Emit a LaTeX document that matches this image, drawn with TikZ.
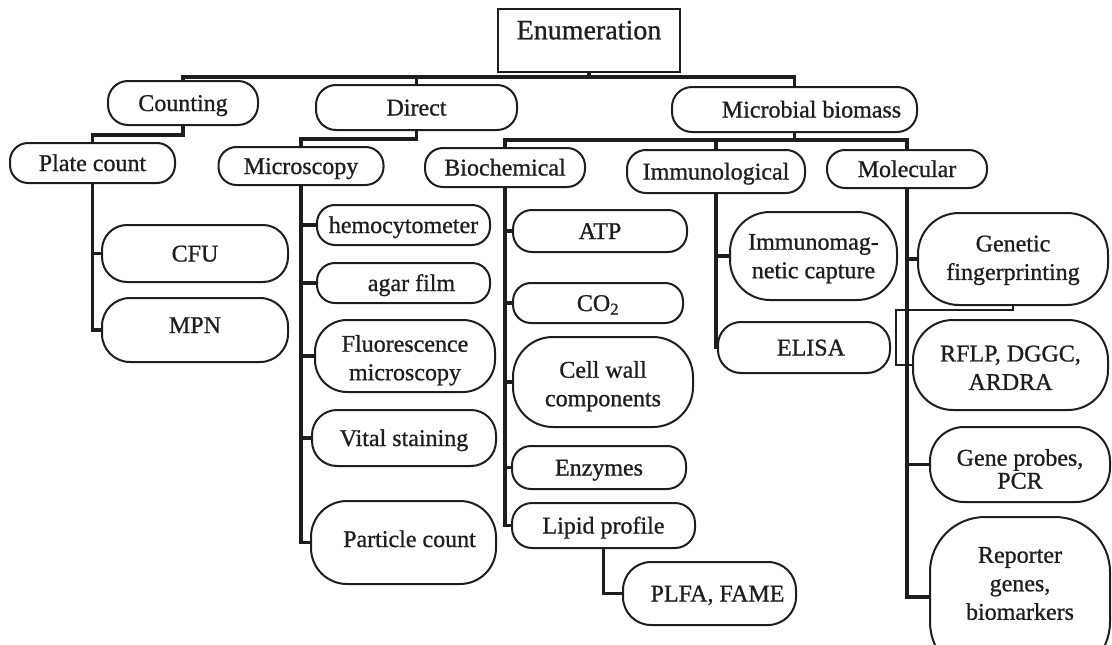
\documentclass[tikz,border=0pt]{standalone}
\usepackage{fontspec}
\setmainfont{Liberation Serif}[FakeBold=0.9]
\definecolor{ink}{HTML}{1E1E1E}
\newcommand\mltext[2]{\raisebox{#1}[0pt][0pt]{\begin{tabular}{@{}c@{}}#2\end{tabular}}}
\begin{document}
\begin{tikzpicture}[x=1pt,y=-1pt,
  bx/.style={draw=ink, line width=2pt, inner sep=0pt, align=center, text=ink,
             font=\fontsize{24}{28.5}\selectfont},
  bxa/.style={bx, text height=16pt, text depth=0pt},
  conn/.style={draw=ink, line width=3.2pt, line join=miter}]
\useasboundingbox (0,0) rectangle (1112,645);

% top level
\node[bx, minimum width=182, minimum height=63, text height=30.3pt, text depth=32.7pt,
      font=\fontsize{28}{32}\selectfont] (enum) at (589,40.5) {Enumeration};

% level 1
\node[bxa, minimum width=150, minimum height=44, rounded corners=20] (counting) at (183,103) {Counting};
\node[bxa, minimum width=201, minimum height=45, rounded corners=20] (direct) at (416.5,107.5) {Direct};
\node[bxa, minimum width=245, minimum height=45, rounded corners=20] (microbial) at (794.5,109.5) {\hspace*{34pt}Microbial biomass};

% level 2
\node[bxa, minimum width=165, minimum height=40, rounded corners=18] (plate) at (92.5,163) {Plate count};
\node[bxa, minimum width=165, minimum height=38, rounded corners=18] (micro) at (301,166) {Microscopy};
\node[bxa, minimum width=160, minimum height=39, rounded corners=18] (biochem) at (505,167.5) {Biochemical};
\node[bxa, minimum width=178, minimum height=43, rounded corners=19] (immuno) at (716,171.5) {Immunological};
\node[bxa, minimum width=160, minimum height=38, rounded corners=18] (molec) at (907,169) {Molecular};

% plate count children
\node[bxa, minimum width=186, minimum height=57, rounded corners=25] (cfu) at (195,253.5) {CFU};
\node[bxa, text depth=10pt, minimum width=186, minimum height=64, rounded corners=28] (mpn) at (195,330) {MPN};

% microscopy children
\node[bxa, minimum width=173, minimum height=40, rounded corners=18] (hemo) at (403.5,225) {hemocytometer};
\node[bxa, minimum width=173, minimum height=40, rounded corners=18] (agar) at (403.5,283) {\hspace*{16pt}agar film};
\node[bx, minimum width=180, minimum height=72, rounded corners=32] (fluor) at (405,356) {\mltext{-10.5pt}{Fluorescence\\microscopy}};
\node[bxa, minimum width=184, minimum height=56, rounded corners=25] (vital) at (404,438) {Vital staining};
\node[bxa, text depth=7pt, minimum width=185, minimum height=83, rounded corners=36] (particle) at (403.5,542.5) {\hspace*{12pt}Particle count};

% biochemical children
\node[bxa, minimum width=174, minimum height=42, rounded corners=19] (atp) at (600,231) {ATP};
\node[bxa, minimum width=170, minimum height=40, rounded corners=18] (co2) at (598,303) {CO\textsubscript{2}};
\node[bx, minimum width=180, minimum height=90, rounded corners=40] (cellwall) at (603,382) {\mltext{-10.5pt}{Cell wall\\components}};
\node[bxa, minimum width=174, minimum height=43, rounded corners=19] (enzymes) at (599,467.5) {Enzymes};
\node[bxa, minimum width=183, minimum height=45, rounded corners=20] (lipid) at (603.5,525.5) {Lipid profile};
\node[bxa, minimum width=173, minimum height=63, rounded corners=28] (plfa) at (709.5,593.5) {\hspace*{16pt}PLFA, FAME};

% immunological children
\node[bx, minimum width=167, minimum height=88, rounded corners=40] (immag) at (813.5,256) {\mltext{-8.5pt}{Immunomag-\\netic capture}};
\node[bxa, minimum width=172, minimum height=51, rounded corners=23] (elisa) at (804,347.5) {\hspace*{14pt}ELISA};

% molecular children
\node[bx, minimum width=190, minimum height=92, rounded corners=41] (genetic) at (1013,259) {\mltext{-7.2pt}{Genetic\\fingerprinting}};
\node[bx, minimum width=195, minimum height=90, rounded corners=40] (rflp) at (1010.5,365) {\mltext{-11.2pt}{RFLP, DGGC,\\ARDRA}};
\node[bx, minimum width=180, minimum height=75, rounded corners=34,
      font=\fontsize{24}{23}\selectfont] (geneprobes) at (1020,464.5) {\mltext{-14pt}{Gene probes,\\PCR}};
\node[bx, minimum width=180, minimum height=160, rounded corners=55] (reporter) at (1020,597) {\mltext{5.2pt}{Reporter\\genes,\\biomarkers}};

% bus levels
\coordinate (topbus) at (0,77);
\coordinate (cbus) at (0,135);
\coordinate (dbus) at (0,139);
\coordinate (mbus) at (0,140);
\coordinate (gbend) at (896,310);

% top connectors
\draw[conn] (enum.south) -- (enum.south |- topbus);
\draw[conn] (counting.north) -- (counting.north |- topbus) -- (microbial.north |- topbus) -- (microbial.north);
\draw[conn] (direct.north) -- (direct.north |- topbus);

% level 1 -> level 2
\draw[conn] (counting.south) -- (counting.south |- cbus) -| (plate.north);
\draw[conn] (direct.south) -- (direct.south |- dbus) -| (micro.north);
\draw[conn] (microbial.south) -- (microbial.south |- mbus);
\draw[conn] (biochem.north) -- (biochem.north |- mbus) -- (molec.north |- mbus) -- (molec.north);
\draw[conn] (immuno.north) -- (immuno.north |- mbus);

% plate count
\draw[conn] (plate.south) -- (plate.south |- mpn.west) -- (mpn.west);
\draw[conn] (cfu.west) -- (cfu.west -| plate.south);

% microscopy
\draw[conn] (micro.south) -- (micro.south |- particle.west) -- (particle.west);
\draw[conn] (hemo.west) -- (hemo.west -| micro.south);
\draw[conn] (agar.west) -- (agar.west -| micro.south);
\draw[conn] (fluor.west) -- (fluor.west -| micro.south);
\draw[conn] (vital.west) -- (vital.west -| micro.south);

% biochemical
\draw[conn] (biochem.south) -- (biochem.south |- lipid.west) -- (lipid.west);
\draw[conn] (atp.west) -- (atp.west -| biochem.south);
\draw[conn] (co2.west) -- (co2.west -| biochem.south);
\draw[conn] (cellwall.west) -- (cellwall.west -| biochem.south);
\draw[conn] (enzymes.west) -- (enzymes.west -| biochem.south);
\draw[conn] (lipid.south) |- (plfa.west);

% immunological
\draw[conn] (immuno.south) -- (immuno.south |- elisa.west) -- (elisa.west);
\draw[conn] (immag.west) -- (immag.west -| immuno.south);

% molecular
\draw[conn] (molec.south) -- (molec.south |- reporter.west) -- (reporter.west);
\draw[conn] (genetic.west) -- (genetic.west -| molec.south);
\draw[conn] (geneprobes.west) -- (geneprobes.west -| molec.south);
\draw[conn, line width=2.4pt] (genetic.south) |- (gbend) |- (rflp.west);
\end{tikzpicture}
\end{document}
